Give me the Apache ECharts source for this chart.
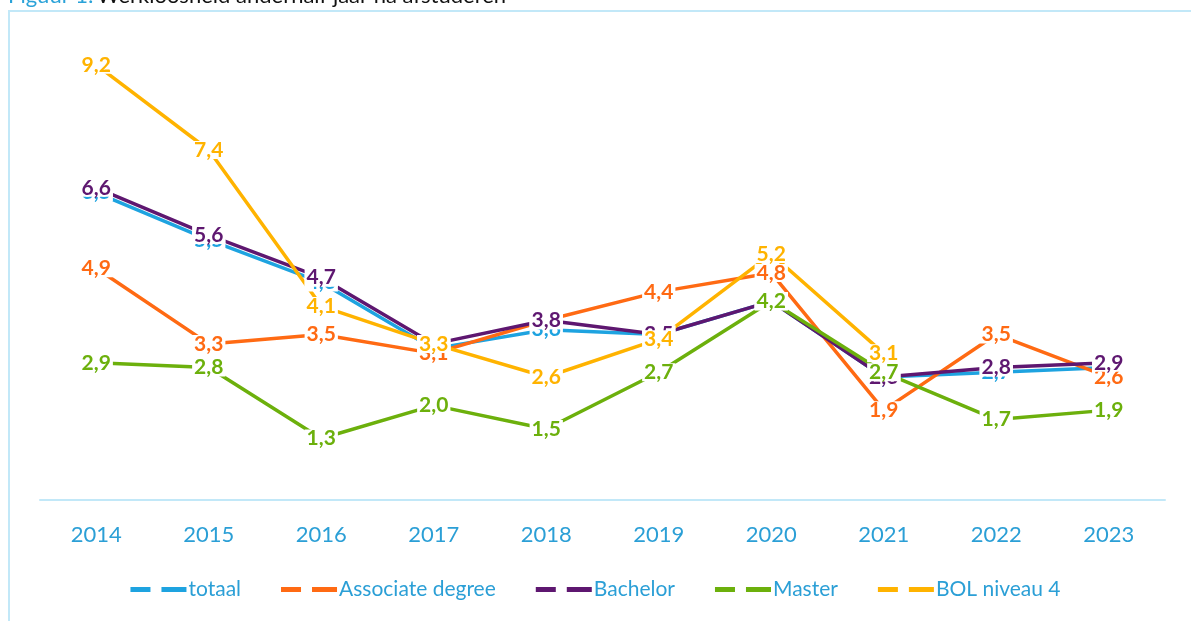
<!DOCTYPE html>
<html>
<head>
<meta charset="utf-8">
<script src="https://cdn.jsdelivr.net/npm/echarts@6/dist/echarts.min.js"></script>
<style>
  html, body { margin: 0; padding: 0; background: #fff; }
  #chart { width: 1191px; height: 621px; }
</style>
</head>
<body>
<div id="chart"></div>
<script>
  // data
  const years = ['2014', '2015', '2016', '2017', '2018', '2019', '2020', '2021', '2022', '2023'];
  const totaal = [6.5, 5.5, 4.6, 3.2, 3.6, 3.5, 4.2, 2.6, 2.7, 2.8];
  const associateDegree = [4.9, 3.3, 3.5, 3.1, 3.8, 4.4, 4.8, 1.9, 3.5, 2.6];
  const bachelor = [6.6, 5.6, 4.7, 3.3, 3.8, 3.5, 4.2, 2.6, 2.8, 2.9];
  const master = [2.9, 2.8, 1.3, 2.0, 1.5, 2.7, 4.2, 2.7, 1.7, 1.9];
  const bolNiveau4 = [9.2, 7.4, 4.1, 3.3, 2.6, 3.4, 5.2, 3.1, null, null];

  const FONT = 'Lato, "Open Sans", sans-serif';
  const BLUE_TXT = '#2b9fd6';

  function lineSeries(name, data, color) {
    return {
      name: name,
      type: 'line',
      data: data,
      symbol: 'circle',
      symbolSize: 0,
      showSymbol: true,
      connectNulls: false,
      lineStyle: { color: color, width: 3.5 },
      itemStyle: { color: color },
      label: {
        show: true,
        position: 'inside',
        formatter: p => p.value == null ? '' : p.value.toFixed(1).replace('.', ','),
        color: color,
        fontFamily: FONT,
        fontWeight: 'bold',
        fontSize: 21,
        lineHeight: 18,
        backgroundColor: '#fff',
        padding: [0, 2]
      },
      emphasis: { disabled: true }
    };
  }

  const chart = echarts.init(document.getElementById('chart'));
  chart.setOption({
    animation: false,
    graphic: [
      { // kader
        type: 'rect',
        shape: { x: 9, y: 11, width: 1200, height: 640 },
        style: { fill: 'none', stroke: '#c2e8f8', lineWidth: 2 },
        silent: true
      },
      {
        type: 'text',
        left: 8, top: -15,
        style: {
          text: '{a|Figuur 1:} {b|Werkloosheid anderhalf jaar na afstuderen}',
          rich: {
            a: { fill: '#2aa2d8', fontSize: 22, fontFamily: FONT },
            b: { fill: '#111', fontSize: 22, fontFamily: FONT }
          }
        }
      }
    ],
    color: ['#1ea3e0', '#ff6a13', '#5e1770', '#6cb00c', '#ffb300'],
    grid: { left: 40, right: 26, top: 27, bottom: 121 },
    legend: {
      bottom: 16,
      left: 'center',
      itemGap: 40,
      itemWidth: 56,
      itemHeight: 5,
      icon: 'path://M0,0h20v5H0z M31,0h25v5H31z',
      textStyle: { color: BLUE_TXT, fontSize: 21, fontFamily: FONT, padding: [0, 0, 0, -3] },
      data: ['totaal', 'Associate degree', 'Bachelor', 'Master', 'BOL niveau 4']
    },
    xAxis: {
      type: 'category',
      data: years,
      boundaryGap: true,
      axisLine: { lineStyle: { color: '#c2e8f8', width: 2 } },
      axisTick: { show: false },
      axisLabel: { color: BLUE_TXT, fontSize: 22, fontFamily: FONT, margin: 24 }
    },
    yAxis: {
      type: 'value',
      min: 0,
      max: 10,
      show: false,
      splitLine: { show: false }
    },
    series: [
      lineSeries('totaal', totaal, '#1ea3e0'),
      lineSeries('Associate degree', associateDegree, '#ff6a13'),
      lineSeries('Bachelor', bachelor, '#5e1770'),
      lineSeries('Master', master, '#6cb00c'),
      lineSeries('BOL niveau 4', bolNiveau4, '#ffb300')
    ]
  });
</script>
</body>
</html>
